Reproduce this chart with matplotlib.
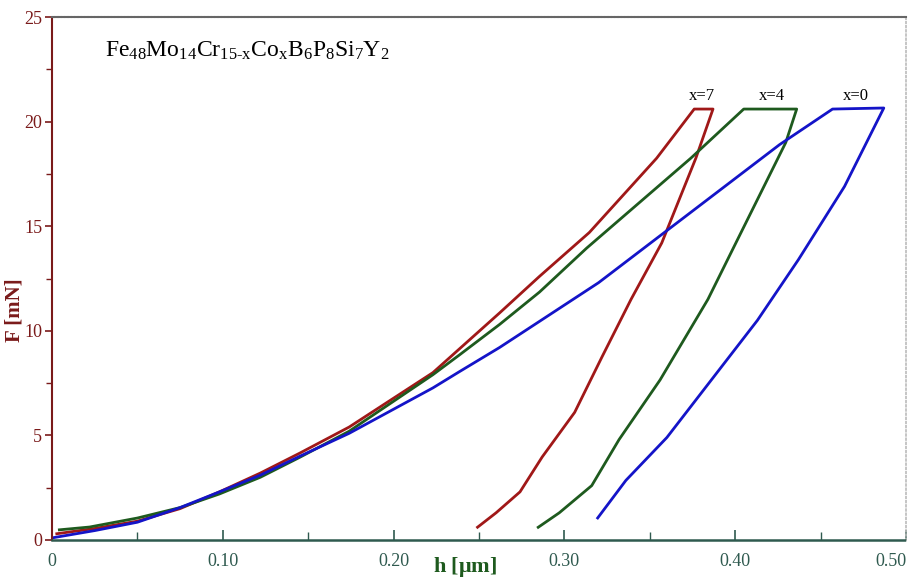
import matplotlib
matplotlib.use("Agg")
import matplotlib.pyplot as plt
from matplotlib.ticker import MultipleLocator, FixedLocator

plt.rcParams['font.family'] = ['Liberation Serif', 'DejaVu Serif']
plt.rcParams['mathtext.fontset'] = 'custom'
plt.rcParams['mathtext.rm'] = 'Liberation Serif'
plt.rcParams['mathtext.it'] = 'Liberation Serif:italic'
plt.rcParams['mathtext.bf'] = 'Liberation Serif:bold'

# ---- data (h in um, F in mN) ----
h_x7 = [0.002, 0.025, 0.05, 0.075, 0.098, 0.122, 0.145, 0.174, 0.223, 0.262, 0.2854,
        0.3146, 0.354, 0.376, 0.387, 0.377, 0.357, 0.339, 0.322, 0.306, 0.287, 0.274,
        0.260, 0.2485]
F_x7 = [0.29, 0.55, 0.9, 1.5, 2.3, 3.2, 4.15, 5.4, 8.0, 10.85, 12.6,
        14.7, 18.25, 20.6, 20.6, 18.26, 14.2, 11.5, 8.75, 6.1, 3.97, 2.3,
        1.3, 0.57]

h_x4 = [0.0035, 0.022, 0.05, 0.075, 0.098, 0.122, 0.145, 0.174, 0.223, 0.2386, 0.262,
        0.2854, 0.313, 0.374, 0.405, 0.436, 0.4296, 0.401, 0.384, 0.356, 0.332, 0.316,
        0.297, 0.284]
F_x4 = [0.48, 0.62, 1.05, 1.55, 2.2, 3.0, 3.95, 5.2, 7.9, 8.85, 10.3,
        11.85, 13.95, 18.25, 20.6, 20.6, 19.0, 14.3, 11.5, 7.65, 4.8, 2.6,
        1.3, 0.57]

h_x0 = [0.0, 0.025, 0.05, 0.075, 0.098, 0.122, 0.145, 0.174, 0.223, 0.2386, 0.262,
        0.2854, 0.320, 0.373, 0.426, 0.457, 0.487, 0.464, 0.437, 0.413, 0.36,
        0.336, 0.319]
F_x0 = [0.1, 0.45, 0.85, 1.55, 2.3, 3.1, 4.0, 5.1, 7.27, 8.05, 9.2,
        10.45, 12.3, 15.6, 18.9, 20.6, 20.65, 16.9, 13.4, 10.5, 4.9,
        2.85, 1.0]

series_labels = ["x=7", "x=4", "x=0"]
label_pos_h = [0.3807, 0.4216, 0.4708]
label_pos_F = [21.2, 21.2, 21.2]

x_ticks = [0, 0.10, 0.20, 0.30, 0.40, 0.50]
x_tick_labels = ["0", "0.10", "0.20", "0.30", "0.40", "0.50"]
y_ticks = [0, 5, 10, 15, 20, 25]
y_tick_labels = ["0", "5", "10", "15", "20", "25"]

title = r"Fe$_{48}$Mo$_{14}$Cr$_{\text{15-x}}$Co$_{\mathrm{x}}$B$_{6}$P$_{8}$Si$_{7}$Y$_{2}$"

# ---- styling ----
red = "#A01818"
green = "#1E5A1E"
blue = "#1414C8"
ycol = "#7A1A1A"
xcol = "#2F5A4F"

fig = plt.figure(figsize=(9.09, 5.80), dpi=100)
ax = fig.add_axes([52/909, 40/580, 854/909, 523/580])

for h, F, c in [(h_x7, F_x7, red), (h_x4, F_x4, green), (h_x0, F_x0, blue)]:
    ax.plot(h, F, color=c, lw=2.0, solid_joinstyle='round', solid_capstyle='butt')

ax.set_xlim(0, 0.5)
ax.set_ylim(0, 25)

ax.xaxis.set_major_locator(FixedLocator(x_ticks))
ax.set_xticklabels(x_tick_labels)
ax.xaxis.set_minor_locator(MultipleLocator(0.05))
ax.yaxis.set_major_locator(FixedLocator(y_ticks))
ax.set_yticklabels(y_tick_labels)
ax.yaxis.set_minor_locator(MultipleLocator(2.5))

ax.tick_params(axis='x', which='both', direction='in', color=xcol, labelcolor=xcol,
               labelsize=13, pad=9)
ax.tick_params(axis='x', which='major', length=7, width=1.2)
ax.tick_params(axis='x', which='minor', length=6, width=1.0)
ax.tick_params(axis='y', which='both', direction='out', color=ycol, labelcolor=ycol,
               labelsize=13, pad=2)
ax.tick_params(axis='y', which='major', length=5, width=1.2)
ax.tick_params(axis='y', which='minor', length=4, width=1.0)
ax.get_xticklabels()[-1].set_horizontalalignment('right')

ax.spines['left'].set_color(ycol)
ax.spines['left'].set_linestyle((0, (1, 1)))
ax.spines['left'].set_linewidth(1.5)
ax.spines['bottom'].set_color(xcol)
ax.spines['bottom'].set_linestyle((0, (1, 1)))
ax.spines['bottom'].set_linewidth(1.8)
ax.spines['top'].set_color("#666666")
ax.spines['top'].set_linestyle((0, (1, 0.6)))
ax.spines['top'].set_linewidth(1.5)
ax.spines['right'].set_color("#BBBBBB")
ax.spines['right'].set_linestyle((0, (1, 1.5)))
ax.spines['right'].set_linewidth(1.2)

ax.text(0.062, 0.935, title, transform=ax.transAxes, fontsize=17, color="black",
        ha='left', va='center')

for lab, hx, fy in zip(series_labels, label_pos_h, label_pos_F):
    ax.text(hx, fy, lab, fontsize=12, color="black", ha='center', va='center')

fig.text(14/909, 1 - 310/580, "F [mN]", rotation=90, fontsize=15, fontweight='bold',
         color=ycol, ha='center', va='center')
fig.text(465/909, 1 - 567/580, r"h [$\mathbf{\mu}$m]", fontsize=16, fontweight='bold',
         color=green, ha='center', va='center')

fig.savefig("out.png", dpi=100)
